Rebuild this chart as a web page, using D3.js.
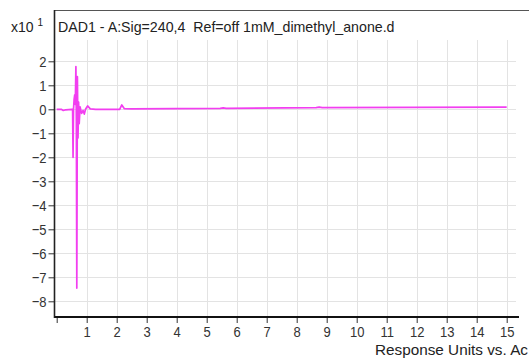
<!DOCTYPE html>
<html><head><meta charset="utf-8">
<script src="https://cdn.jsdelivr.net/npm/d3@7"></script>
<style>
html,body{margin:0;padding:0;background:#fff;overflow:hidden;}
svg{display:block;}
text{white-space:pre;}
</style></head>
<body><svg id="c" width="529" height="358"></svg>
<script>
// Data (time in minutes, response x10^1)
const times  = [0.00,0.15,0.22,0.30,0.50,0.53,0.545,0.56,0.58,0.60,0.62,0.64,0.655,0.67,0.69,0.71,0.73,0.75,0.78,0.83,0.88,0.92,0.96,1.03,1.12,1.30,2.10,2.17,2.25,2.50,5.45,5.55,5.65,8.65,8.75,8.85,12.0,15.0];
const values = [0.00,0.00,-0.05,-0.02,0.00,0.00,-2.00,0.00,0.40,0.60,0.20,1.78,-0.50,-7.45,1.36,-1.20,0.30,-0.60,0.10,-0.17,-0.05,-0.20,0.00,0.14,0.02,0.00,0.00,0.18,0.03,0.02,0.04,0.06,0.04,0.07,0.09,0.07,0.08,0.09];
const xTicks = [0,1,2,3,4,5,6,7,8,9,10,11,12,13,14,15];
const yTicks = [2,1,0,-1,-2,-3,-4,-5,-6,-7,-8];
const title = "DAD1 - A:Sig=240,4  Ref=off 1mM_dimethyl_anone.d";
const xLabel = "Response Units vs. Ac";

const svg = d3.select("#c");
const x = d3.scaleLinear().domain([0,15]).range([56.7,506.7]);
const y = d3.scaleLinear().domain([-8,2]).range([301.3,61.3]);
const axisY = 317, gridTop = 40, axisX = 54.5;
const tickFont = "'Liberation Sans',Arial,sans-serif";
const sx = 0.84;

// gridlines
svg.append("g").selectAll("line.v").data(xTicks.filter(d=>d>0)).join("line")
  .attr("x1",d=>Math.round(x(d))+0.5).attr("x2",d=>Math.round(x(d))+0.5)
  .attr("y1",gridTop).attr("y2",axisY).attr("stroke","#e3e3e3").attr("stroke-width",1);
svg.append("g").selectAll("line.h").data(yTicks).join("line")
  .attr("x1",axisX).attr("x2",516)
  .attr("y1",d=>Math.round(y(d))+0.5).attr("y2",d=>Math.round(y(d))+0.5)
  .attr("stroke","#e3e3e3").attr("stroke-width",1);

// top border
svg.append("line").attr("x1",axisX).attr("x2",529).attr("y1",10.5).attr("y2",10.5)
  .attr("stroke","#555").attr("stroke-width",1);

// Y axis
const ya = d3.axisLeft(y).tickValues(yTicks).tickSize(6).tickPadding(3).tickFormat(d3.format("d"));
const gy = svg.append("g").attr("transform",`translate(${axisX},0)`).call(ya);
gy.select(".domain").remove();
gy.selectAll(".tick line").attr("stroke","#333").attr("stroke-width",1);
gy.selectAll(".tick text").attr("fill","#333").style("font-family",tickFont).style("font-size","15.5px")
  .attr("x",-8/sx).attr("transform",`scale(${sx},1)`);
svg.append("line").attr("x1",axisX).attr("x2",axisX).attr("y1",10).attr("y2",axisY+1)
  .attr("stroke","#222").attr("stroke-width",1.6);

// X axis
const xa = d3.axisBottom(x).tickValues(xTicks).tickSize(6).tickPadding(3).tickFormat(d=>d===0?"":d);
const gx = svg.append("g").attr("transform",`translate(0,${axisY})`).call(xa);
gx.select(".domain").remove();
gx.selectAll(".tick line").attr("stroke","#333").attr("stroke-width",1);
gx.selectAll(".tick text").attr("fill","#333").style("font-family",tickFont).style("font-size","15.5px")
  .attr("transform",`scale(${sx},1)`);
svg.append("line").attr("x1",axisX).attr("x2",519).attr("y1",axisY).attr("y2",axisY)
  .attr("stroke","#111").attr("stroke-width",2.2);

// signal
const pts = times.map((t,i)=>[t,values[i]]);
svg.append("path").datum(pts)
  .attr("d",d3.line().x(d=>x(d[0])).y(d=>y(d[1])))
  .attr("fill","none").attr("stroke","#f23ef0").attr("stroke-width",1.7).attr("stroke-linejoin","round");

// texts
svg.append("text").attr("x",58).attr("y",31.5).text(title)
  .attr("fill","#222").style("font-family","'Liberation Sans',Arial,sans-serif").style("font-size","14.2px");
const ex = svg.append("text").attr("x",11).attr("y",31.5).attr("fill","#222")
  .style("font-family","'Liberation Sans',Arial,sans-serif").style("font-size","14px");
ex.append("tspan").text("x10 ");
ex.append("tspan").attr("dy",-6).style("font-size","10px").text("1");
svg.append("text").attr("x",528).attr("y",355).attr("text-anchor","end").text(xLabel)
  .attr("fill","#222").style("font-family","'Liberation Sans',Arial,sans-serif").style("font-size","15.3px");
</script></body></html>
